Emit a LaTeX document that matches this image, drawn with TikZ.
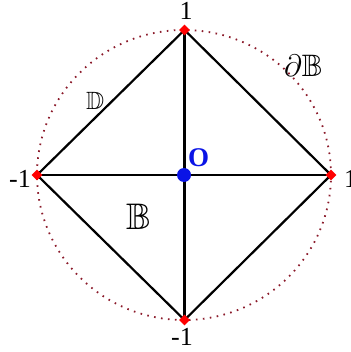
\documentclass[tikz,border=0pt]{standalone}
\usepackage{fix-cm}
\usepackage{amssymb}
\DeclareFontFamily{U}{msb}{}
\DeclareFontShape{U}{msb}{m}{n}{<-6>msbm5<6-8>msbm7<8->msbm10}{}
\usepackage{fontspec}
\setmainfont{Liberation Serif}
\usetikzlibrary{shapes.geometric}
\definecolor{circred}{HTML}{8B1A2A}
\definecolor{ptred}{HTML}{FF0000}
\definecolor{oblue}{HTML}{0A14E6}
\begin{document}
\begin{tikzpicture}[x=1pt,y=-1pt,
  edge/.style={draw=black,line width=2.2pt},
  vmark/.style={diamond,fill=ptred,inner sep=0pt,minimum size=11pt},
  num/.style={font=\fontsize{26}{26}\selectfont,inner sep=0pt}]
\useasboundingbox (0,0) rectangle (350,352);
\coordinate (C) at (184,175);
\draw[circred,line width=1.8pt,dash pattern=on 1.6pt off 5.4pt] (C) circle[x radius=147pt,y radius=145pt];
\coordinate (T) at (184.5,30);
\coordinate (R) at (331,175);
\coordinate (B) at (184.5,320);
\coordinate (L) at (37,175);
\draw[edge,line join=miter] (T) -- (R) -- (B) -- (L) -- cycle;
\draw[edge] (T) -- (B);
\draw[edge] (L) -- (R);
\node[vmark] (vt) at (T) {};
\node[vmark] (vr) at (R) {};
\node[vmark] (vb) at (B) {};
\node[vmark] (vl) at (L) {};
\node[circle,fill=oblue,inner sep=0pt,minimum size=14pt] (o) at (C) {};
\node[num,anchor=base] (lt) at (186,20) {1};
\node[num,anchor=base west] (lr) at (344,187) {1};
\node[num,anchor=base east] (ll) at (31,187) {-1};
\node[num,anchor=base] (lb) at (182,345) {-1};
\node[font=\fontsize{27}{27}\selectfont\bfseries,text=oblue,inner sep=0pt,anchor=base west] (lo) at (188,167) {O};
\node[inner sep=0pt,anchor=base west] (ldb) at (284,77) {\fontsize{31}{31}\selectfont$\partial\mathbb{B}$};
\node[inner sep=0pt,anchor=base west] (ld) at (86,110) {\fontsize{25}{25}\selectfont$\mathbb{D}$};
\node[inner sep=0pt,anchor=base west] (lbb) at (126,229) {\fontsize{37}{37}\selectfont$\mathbb{B}$};
\end{tikzpicture}
\end{document}
